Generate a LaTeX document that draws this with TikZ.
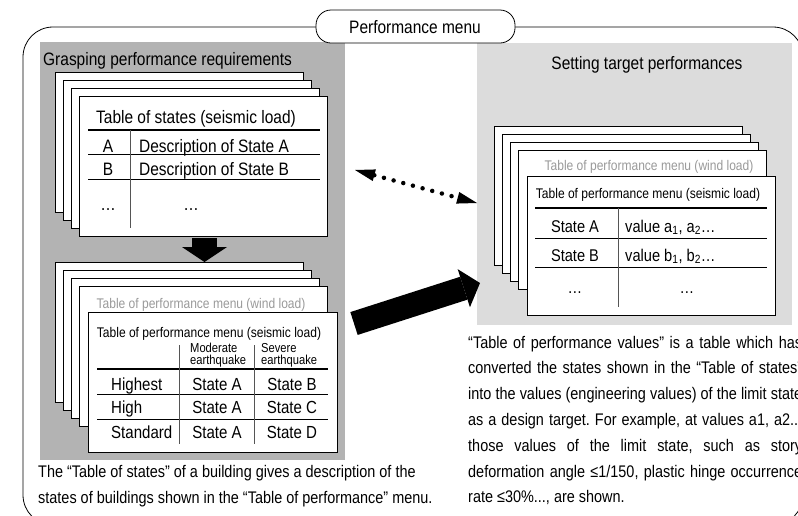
\documentclass[tikz,border=0pt]{standalone}
\usepackage{fontspec}
\setmainfont{Liberation Sans}[FakeStretch=0.86]
\usepackage{tikz}
\usetikzlibrary{arrows.meta}
\definecolor{my_panelgray}{HTML}{B3B3B3}
\definecolor{my_lightpanel}{HTML}{DCDCDC}
\definecolor{my_textgray}{HTML}{9A9A9A}
\definecolor{my_rulegray}{HTML}{555555}
\frenchspacing

\begin{document}
\begin{tikzpicture}[
    x=1pt, y=-1pt,
    sheet/.style={fill=white, draw=black, line width=0.9pt},
    headrule/.style={draw=black, line width=1.5pt},
    rowrule/.style={draw=black, line width=0.8pt},
    colrule/.style={draw=my_rulegray, line width=0.9pt},
    heading/.style={font=\fontsize{18}{20}\selectfont, inner sep=0pt},
    cell/.style={font=\fontsize{17.5}{20}\selectfont, inner sep=0pt},
    smallcell/.style={font=\fontsize{17}{18}\selectfont, inner sep=0pt},
    tabletitle/.style={font=\fontsize{14}{16}\selectfont, inner sep=0pt, anchor=base},
    colhead/.style={font=\fontsize{13}{13}\selectfont, inner sep=0pt, anchor=base west},
    caption/.style={font=\fontsize{16.8}{20}\selectfont, inner sep=0pt, anchor=base west}
]
\useasboundingbox (0,0) rectangle (798,515);
\clip (0,0) rectangle (798,515);

%% ---- Rahmen ----
\draw[line width=0.8pt, rounded corners=30pt] (23,27) rectangle (803,525);

%% ---- Hintergrundflaechen ----
\fill[my_panelgray] (40,42) rectangle (345,460);
\fill[my_lightpanel] (477,43) rectangle (792,325);

%% ---- Reiter oben ----
\draw[fill=white, line width=0.8pt, rounded corners=15pt] (316,10) rectangle (515,43);
\node[heading, anchor=base] (menu_title) at (415,33) {Performance menu};

\node[heading, anchor=base west] (grasp_title) at (43,65) {Grasping performance requirements};
\node[heading, anchor=base] (target_title) at (647,69) {Setting target performances};

%% ---- Zustandstabelle (Stapel oben links) ----
\foreach \i in {0,...,3} {
    \draw[sheet] ({55+8.3*\i},{72+8.3*\i}) rectangle ++(248,140);
}
\node[heading, anchor=base] (states_title) at (196,123) {Table of states (seismic load)};
\draw[headrule] (88,130) -- (320,130);
\draw[rowrule] (88,154) -- (320,154);
\draw[rowrule] (88,179) -- (320,179);
\draw[colrule] (130,130) -- (130,228);
\node[heading, anchor=base] (row_a) at (108,152) {A};
\node[heading, anchor=base west] (desc_a) at (139,152) {Description of State A};
\node[heading, anchor=base] (row_b) at (108,175) {B};
\node[heading, anchor=base west] (desc_b) at (139,175) {Description of State B};
\node[heading, anchor=base] (row_dots) at (108,210) {\dots};
\node[heading, anchor=base] (desc_dots) at (191,210) {\dots};

%% ---- Pfeil nach unten ----
\coordinate (down_start) at (204.5,238);
\coordinate (down_end) at (204.5,262);
\draw[line width=25pt, -{Triangle[length=15pt, width=45pt, line width=0pt]}]
    (down_start) -- (down_end);

%% ---- Leistungsmenue (Stapel unten links) ----
\foreach \i in {0,...,3} {
    \draw[sheet] ({55+8.3*\i},{262+8.3*\i}) rectangle ++(248,140);
}
\draw[sheet] (88,312) rectangle (337,452);
\node[tabletitle, text=my_textgray] (wind_left) at (201,308) {Table of performance menu (wind load)};
\node[tabletitle] (seismic_left) at (209,337) {Table of performance menu (seismic load)};
\node[colhead] (moderate_a) at (190,352) {Moderate};
\node[colhead] (moderate_b) at (190,364) {earthquake};
\node[colhead] (severe_a) at (261,352) {Severe};
\node[colhead] (severe_b) at (261,364) {earthquake};
\draw[headrule] (97,369) -- (328,369);
\draw[rowrule] (97,394) -- (328,394);
\draw[rowrule] (97,419) -- (328,419);
\draw[colrule] (179,345) -- (179,444);
\draw[colrule] (254,345) -- (254,444);
\node[cell, anchor=base west] (highest) at (111,390) {Highest};
\node[cell, anchor=base] (highest_mod) at (217,390) {State A};
\node[cell, anchor=base] (highest_sev) at (292,390) {State B};
\node[cell, anchor=base west] (high) at (111,413) {High};
\node[cell, anchor=base] (high_mod) at (217,413) {State A};
\node[cell, anchor=base] (high_sev) at (292,413) {State C};
\node[cell, anchor=base west] (standard) at (111,438) {Standard};
\node[cell, anchor=base] (standard_mod) at (217,438) {State A};
\node[cell, anchor=base] (standard_sev) at (292,438) {State D};

%% ---- Zielwerte (Stapel rechts) ----
\foreach \i in {0,...,3} {
    \draw[sheet] ({494+8.2*\i},{126+8.2*\i}) rectangle ++(248,139);
}
\draw[sheet] (527,176) rectangle (775,315);
\node[tabletitle, text=my_textgray] (wind_right) at (649,170) {Table of performance menu (wind load)};
\node[tabletitle] (seismic_right) at (648,198) {Table of performance menu (seismic load)};
\draw[headrule] (535,208) -- (767,208);
\draw[rowrule] (535,238) -- (767,238);
\draw[rowrule] (535,267) -- (767,267);
\draw[colrule] (618,208) -- (618,307);
\node[smallcell, anchor=base] (target_a) at (575,232) {State A};
\node[smallcell, anchor=base west] (value_a) at (625,232) {value a\textsubscript{1}, a\textsubscript{2}\dots};
\node[smallcell, anchor=base] (target_b) at (575,261) {State B};
\node[smallcell, anchor=base west] (value_b) at (625,261) {value b\textsubscript{1}, b\textsubscript{2}\dots};
\node[smallcell, anchor=base] (target_dots) at (575,293) {\dots};
\node[smallcell, anchor=base] (value_dots) at (687,293) {\dots};

%% ---- Verbindungspfeile ----
\coordinate (dot_left) at (355,170);
\coordinate (dot_right) at (477,203);
\draw[line width=4.5pt, line cap=round, dash pattern=on 0pt off 10pt,
      {Triangle[length=20pt, width=12pt, line width=0pt]}-{Triangle[length=20pt, width=12pt, line width=0pt]}]
    (dot_left) -- (dot_right);

\coordinate (big_start) at (354,323.5);
\coordinate (big_end) at (480,283);
\draw[line width=24pt, -{Triangle[length=17pt, width=40pt, line width=0pt]}]
    (big_start) -- (big_end);

%% ---- Erlaeuterungen ----
\node[caption] (cap_left_a) at (38,477) {The “Table of states” of a building gives a description of the};
\node[caption] (cap_left_b) at (38,503) {states of buildings shown in the “Table of performance” menu.};

\node[caption] (cap_right_a) at (468,348) {\makebox[334pt][s]{“Table of performance values” is a table which has}};
\node[caption] (cap_right_b) at (468,373.8) {\makebox[334pt][s]{converted the states shown in the “Table of states”}};
\node[caption] (cap_right_c) at (468,399.6) {\makebox[334pt][s]{into the values (engineering values) of the limit state}};
\node[caption] (cap_right_d) at (468,425.4) {\makebox[334pt][s]{as a design target. For example, at values a1, a2...}};
\node[caption] (cap_right_e) at (468,451.2) {\makebox[334pt][s]{those values of the limit state, such as story}};
\node[caption] (cap_right_f) at (468,477) {\makebox[334pt][s]{deformation angle ≤1/150, plastic hinge occurrence}};
\node[caption] (cap_right_g) at (468,502.8) {rate ≤30\%..., are shown.};

\end{tikzpicture}
\end{document}
